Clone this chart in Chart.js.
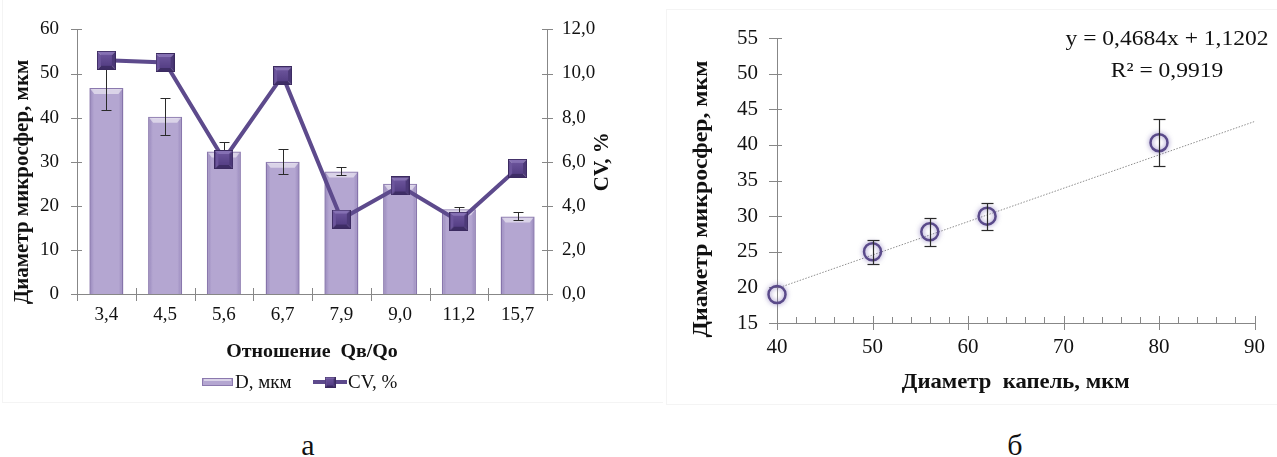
<!DOCTYPE html>
<html>
<head>
<meta charset="utf-8">
<script src="https://cdn.jsdelivr.net/npm/chart.js@4.4.1/dist/chart.umd.min.js"></script>
<style>
  html, body { margin: 0; padding: 0; background: #fff; width: 1277px; height: 457px; overflow: hidden; }
  .panel { position: absolute; }
  #panelA { left: 0; top: 0; width: 640px; height: 403px; }
  #panelB { left: 666px; top: 0; width: 611px; height: 403px; }
  #frameA { position: absolute; left: 2px; top: -1px; width: 660px; height: 403px; border-left: 1px solid #f4f4f4; border-bottom: 1px solid #f4f4f4; }
  #frameB { position: absolute; left: 666px; top: 9px; width: 611px; height: 394px; border-left: 1px solid #f4f4f4; border-top: 1px solid #f4f4f4; border-bottom: 1px solid #f4f4f4; }
  .fig { position: absolute; top: 430px; width: 40px; text-align: center; font: 30px/1 "Liberation Serif", "Times New Roman", serif; color: #111; }
</style>
</head>
<body>
<div id="frameA"></div>
<div id="frameB"></div>
<div class="panel" id="panelA"><canvas id="chartA"></canvas></div>
<div class="panel" id="panelB"><canvas id="chartB"></canvas></div>
<div class="fig" style="left:288px">а</div>
<div class="fig" style="left:995px">б</div>

<script>
// ---- (а) microsphere diameter and CV versus the flow ratio Qв/Qo ----
const ratioLabels = ['3,4', '4,5', '5,6', '6,7', '7,9', '9,0', '11,2', '15,7'];
const diameterD   = [46.7, 40.2, 32.3, 30.0, 27.8, 25.0, 19.2, 17.6];
const diameterErr = [5.0, 4.2, 2.1, 2.9, 0.9, 0.8, 0.6, 0.9];
const cvPercent   = [10.6, 10.5, 6.1, 9.9, 3.4, 4.9, 3.3, 5.7];

// ---- (б) microsphere diameter versus droplet diameter ----
const dropletD  = [40, 50, 56, 62, 80];
const sphereD   = [19.0, 25.0, 27.8, 30.0, 40.3];
const sphereErr = [0, 1.7, 2.0, 1.9, 3.3];
const trendSlope = 0.4684;
const trendIntercept = 1.1202;
const trendR2 = 0.9919;
const trendRange = [40, 90];

const SERIF = '"Liberation Serif", "Times New Roman", serif';
const AXIS = '#878787';
const INK = '#111111';
const BAR_FILL = '#b4a6d1';
const BAR_EDGE = '#8b79ae';
const CV_LINE = '#5d4a8c';

const comma = v => String(v).replace('.', ',');

// Bevelled square used as the CV marker
function bevelSquare(size) {
  const c = document.createElement('canvas');
  c.width = c.height = size;
  const g = c.getContext('2d');
  const b = Math.max(2, Math.round(size * 0.22));
  const poly = (pts, col) => { g.beginPath(); g.moveTo(pts[0][0], pts[0][1]); for (let i = 1; i < pts.length; i++) g.lineTo(pts[i][0], pts[i][1]); g.closePath(); g.fillStyle = col; g.fill(); };
  poly([[0,0],[size,0],[size-b,b],[b,b]], '#8570b3');
  poly([[0,0],[b,b],[b,size-b],[0,size]], '#6c559c');
  poly([[size,0],[size,size],[size-b,size-b],[size-b,b]], '#4c3978');
  poly([[0,size],[b,size-b],[size-b,size-b],[size,size]], '#3e2d66');
  const grd = g.createLinearGradient(0, b, 0, size - b);
  grd.addColorStop(0, '#6a539a'); grd.addColorStop(1, '#553f85');
  g.fillStyle = grd; g.fillRect(b, b, size - 2*b, size - 2*b);
  g.strokeStyle = '#3b2a60'; g.lineWidth = 1; g.strokeRect(0.5, 0.5, size - 1, size - 1);
  return c;
}
const cvMarker = bevelSquare(19);
const cvMarkerSmall = bevelSquare(11);

function caption(ctx, text, x, y, size, bold, rot, sx) {
  ctx.save();
  ctx.translate(x, y);
  if (rot) ctx.rotate(rot);
  if (sx) ctx.scale(sx, 1);
  ctx.font = (bold ? 'bold ' : '') + size + 'px ' + SERIF;
  ctx.fillStyle = INK;
  ctx.textAlign = 'center';
  ctx.textBaseline = 'middle';
  ctx.fillText(text, 0, 0);
  ctx.restore();
}
function seg(ctx, x1, y1, x2, y2) { ctx.beginPath(); ctx.moveTo(x1, y1); ctx.lineTo(x2, y2); ctx.stroke(); }
const px = v => Math.round(v) + 0.5;

// ---------- chart а ----------
const decorA = {
  id: 'decorA',
  beforeDatasetsDraw(chart) {
    const { ctx, scales: s } = chart;
    ctx.save();
    ctx.strokeStyle = AXIS; ctx.lineWidth = 1;
    s.y.ticks.forEach(t => { const y = px(s.y.getPixelForValue(t.value)); seg(ctx, s.y.right - 6, y, s.y.right + 5, y); });
    s.y1.ticks.forEach(t => { const y = px(s.y1.getPixelForValue(t.value)); seg(ctx, s.y1.left - 5, y, s.y1.left + 6, y); });
    const n = chart.data.labels.length, step = (s.x.right - s.x.left) / n;
    for (let i = 0; i <= n; i++) { const x = px(s.x.left + i * step); seg(ctx, x, s.x.top - 6, x, s.x.top + 7); }
    ctx.restore();
  },
  afterDatasetDraw(chart, args) {
    if (args.index !== 0) return;
    const { ctx, scales: { y } } = chart;
    ctx.save();
    // soft bevel on each column: darker side edges and a light top facet
    args.meta.data.forEach(bar => {
      const w = bar.width, l = bar.x - w / 2, r = bar.x + w / 2, t = bar.y, b = bar.base;
      const g = ctx.createLinearGradient(l, 0, r, 0);
      g.addColorStop(0, 'rgba(95,75,145,0.35)');
      g.addColorStop(0.14, 'rgba(95,75,145,0)');
      g.addColorStop(0.86, 'rgba(95,75,145,0)');
      g.addColorStop(1, 'rgba(95,75,145,0.35)');
      ctx.fillStyle = g;
      ctx.fillRect(l + 1, t + 1, w - 2, b - t - 1);
      ctx.beginPath();
      ctx.moveTo(l + 1, t + 1); ctx.lineTo(r - 1, t + 1); ctx.lineTo(r - 5, t + 6); ctx.lineTo(l + 5, t + 6); ctx.closePath();
      ctx.fillStyle = 'rgba(255,255,255,0.5)';
      ctx.fill();
    });
    ctx.strokeStyle = '#2a2a2a'; ctx.lineWidth = 1;
    args.meta.data.forEach((bar, i) => {
      const x = px(bar.x);
      const t = px(y.getPixelForValue(diameterD[i] + diameterErr[i]));
      const b = px(y.getPixelForValue(diameterD[i] - diameterErr[i]));
      seg(ctx, x, t, x, b); seg(ctx, x - 5, t, x + 5, t); seg(ctx, x - 5, b, x + 5, b);
    });
    ctx.restore();
  },
  afterDraw(chart) {
    const { ctx, chartArea: a, scales: s } = chart;
    caption(ctx, 'Диаметр микросфер, мкм', 23, 182, 20, true, -Math.PI / 2, 1.05);
    caption(ctx, 'CV, %', s.y1.left + 56, (a.top + a.bottom) / 2, 20, true, -Math.PI / 2, 1.05);
    caption(ctx, 'Отношение  Qв/Qo', (a.left + a.right) / 2, 352, 19, true, 0, 1.05);
    // legend
    const ds = chart.data.datasets;
    const ly = 382;
    ctx.save();
    ctx.fillStyle = ds[0].backgroundColor; ctx.strokeStyle = ds[0].borderColor; ctx.lineWidth = 1;
    ctx.fillRect(202, ly - 4, 31, 8); ctx.strokeRect(202.5, ly - 3.5, 30, 7);
    ctx.fillStyle = 'rgba(255,255,255,0.5)'; ctx.fillRect(204, ly - 3, 27, 2);
    ctx.font = '19px ' + SERIF; ctx.fillStyle = INK; ctx.textAlign = 'left'; ctx.textBaseline = 'middle';
    ctx.fillText(ds[0].label, 235, ly + 1);
    ctx.strokeStyle = ds[1].borderColor; ctx.lineWidth = 4;
    seg(ctx, 313, ly, 347, ly);
    ctx.drawImage(cvMarkerSmall, 330 - 5.5, ly - 5.5);
    ctx.fillText(ds[1].label, 348, ly + 1);
    ctx.restore();
  }
};

new Chart(document.getElementById('chartA'), {
  data: {
    labels: ratioLabels,
    datasets: [
      { type: 'bar', label: 'D, мкм', data: diameterD, yAxisID: 'y',
        backgroundColor: BAR_FILL, borderColor: BAR_EDGE, borderWidth: 1.5,
        categoryPercentage: 1, barPercentage: 0.58, order: 2 },
      { type: 'line', label: 'CV, %', data: cvPercent, yAxisID: 'y1',
        borderColor: CV_LINE, borderWidth: 4, pointStyle: cvMarker, pointRadius: 9,
        backgroundColor: CV_LINE, clip: false, order: 1 }
    ]
  },
  options: {
    responsive: true, maintainAspectRatio: false, animation: false,
    layout: { padding: { top: 25, left: 0, right: 0, bottom: 0 } },
    plugins: { legend: { display: false }, tooltip: { enabled: false } },
    scales: {
      x: {
        offset: true,
        grid: { display: false, drawTicks: false },
        border: { color: AXIS, width: 1 },
        ticks: { color: INK, font: { family: SERIF, size: 19 }, padding: 10, maxRotation: 0 },
        afterFit(s) { s.height = 109; }
      },
      y: {
        position: 'left', min: 0, max: 60,
        grid: { display: false, drawTicks: false },
        border: { color: AXIS, width: 1 },
        ticks: { stepSize: 10, color: INK, font: { family: SERIF, size: 19 }, padding: 18 },
        afterFit(s) { s.width = 77; }
      },
      y1: {
        position: 'right', min: 0, max: 12,
        grid: { display: false, drawTicks: false },
        border: { color: AXIS, width: 1 },
        ticks: { stepSize: 2, color: INK, font: { family: SERIF, size: 19 }, padding: 15,
                 callback: v => comma(Number(v).toFixed(1)) },
        afterFit(s) { s.width = 93; }
      }
    }
  },
  plugins: [decorA]
});

// ---------- chart б ----------
const trendPoints = trendRange.map(x => ({ x, y: trendSlope * x + trendIntercept }));

const decorB = {
  id: 'decorB',
  beforeDatasetsDraw(chart) {
    const { ctx, scales: s } = chart;
    ctx.save();
    ctx.strokeStyle = AXIS; ctx.lineWidth = 1;
    s.y.ticks.forEach(t => { const y = px(s.y.getPixelForValue(t.value)); seg(ctx, s.y.right - 8, y, s.y.right + 5, y); });
    s.x.ticks.forEach(t => { const x = px(s.x.getPixelForValue(t.value)); seg(ctx, x, s.x.top - 7, x, s.x.top + 7); });
    for (let v = s.x.min; v <= s.x.max; v += 2) {
      if (v % 10 === 0) continue;
      const x = px(s.x.getPixelForValue(v)); seg(ctx, x, s.x.top - 6, x, s.x.top);
    }
    ctx.restore();
  },
  beforeDatasetDraw(chart, args) {
    if (args.index !== 1) return;
    chart.ctx.save();
    chart.ctx.shadowColor = 'rgba(105, 85, 170, 0.75)';
    chart.ctx.shadowBlur = 5;
  },
  afterDatasetDraw(chart, args) {
    if (args.index !== 1) return;
    chart.ctx.restore();
  },
  afterDatasetsDraw(chart) {
    const { ctx, scales: { x: sx, y: sy } } = chart;
    ctx.save();
    ctx.strokeStyle = '#2a2a2a'; ctx.lineWidth = 1.2;
    dropletD.forEach((d, i) => {
      if (!sphereErr[i]) return;
      const x = px(sx.getPixelForValue(d));
      const t = px(sy.getPixelForValue(sphereD[i] + sphereErr[i]));
      const b = px(sy.getPixelForValue(sphereD[i] - sphereErr[i]));
      seg(ctx, x, t, x, b); seg(ctx, x - 6, t, x + 6, t); seg(ctx, x - 6, b, x + 6, b);
    });
    ctx.restore();
  },
  afterDraw(chart) {
    const { ctx, chartArea: a } = chart;
    caption(ctx, 'Диаметр микросфер, мкм', 35, 199, 22, true, -Math.PI / 2, 1.08);
    caption(ctx, 'Диаметр  капель, мкм', (a.left + a.right) / 2, 383, 21, true, 0, 1.08);
    const eq = 'y = ' + comma(trendSlope) + 'x + ' + comma(trendIntercept);
    caption(ctx, eq, 501, 39, 21, false, 0, 1.12);
    caption(ctx, 'R² = ' + comma(trendR2), 501, 71, 21, false, 0, 1.12);
  }
};

new Chart(document.getElementById('chartB'), {
  type: 'scatter',
  data: {
    datasets: [
      { type: 'line', label: 'Линейная', data: trendPoints, borderColor: '#8e8e8e', borderWidth: 1,
        borderDash: [1.5, 1.5], pointRadius: 0, fill: false, order: 2 },
      { label: 'Диаметр микросфер', data: dropletD.map((d, i) => ({ x: d, y: sphereD[i] })),
        pointRadius: 8.5, pointBackgroundColor: 'rgba(255,255,255,0)', pointBorderColor: '#5a4a8a',
        pointBorderWidth: 2.5, clip: false, order: 1 }
    ]
  },
  options: {
    responsive: true, maintainAspectRatio: false, animation: false,
    layout: { padding: { top: 38, left: 0, right: 22, bottom: 0 } },
    plugins: { legend: { display: false }, tooltip: { enabled: false } },
    scales: {
      x: {
        type: 'linear', min: 40, max: 90,
        grid: { display: false, drawTicks: false },
        border: { color: AXIS, width: 1 },
        ticks: { stepSize: 10, color: INK, font: { family: SERIF, size: 21 }, padding: 12 },
        afterFit(s) { s.height = 80; }
      },
      y: {
        min: 15, max: 55,
        grid: { display: false, drawTicks: false },
        border: { color: AXIS, width: 1 },
        ticks: { stepSize: 5, color: INK, font: { family: SERIF, size: 21 }, padding: 19 },
        afterFit(s) { s.width = 111; }
      }
    }
  },
  plugins: [decorB]
});
</script>
</body>
</html>
